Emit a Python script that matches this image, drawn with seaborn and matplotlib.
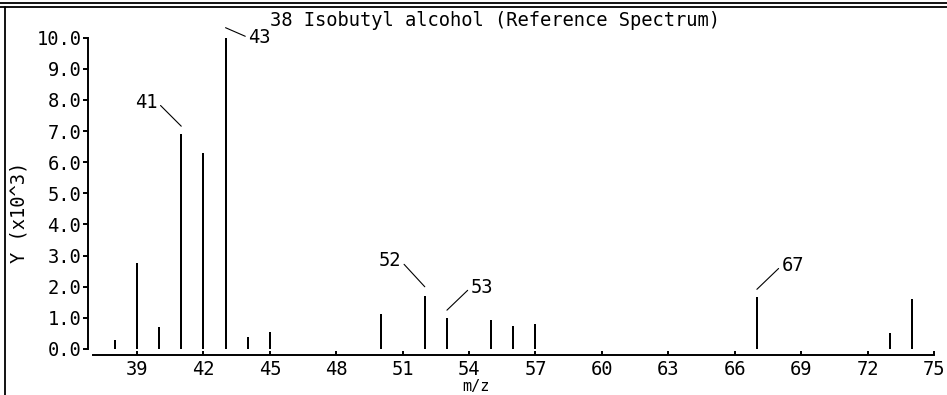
#!/usr/bin/env python3
import pandas as pd
import seaborn as sns
import matplotlib.pyplot as plt
from matplotlib.lines import Line2D
from matplotlib.transforms import offset_copy

# --- spectrum data (intensity in units of 10^3) ---
MZ = [38, 39, 40, 41, 42, 43, 44, 45, 50, 52, 53, 55, 56, 57, 67, 73, 74]
INTENSITY = [0.30, 2.75, 0.72, 6.90, 6.29, 10.0, 0.37, 0.56, 1.12,
             1.71, 0.99, 0.93, 0.74, 0.79, 1.66, 0.50, 1.61]
LABELED_PEAKS = [41, 43, 52, 53, 67]
X_TICKS = [39, 42, 45, 48, 51, 54, 57, 60, 63, 66, 69, 72, 75]
Y_TICKS = [0, 1, 2, 3, 4, 5, 6, 7, 8, 9, 10]
TITLE = "38 Isobutyl alcohol (Reference Spectrum)"

# label callout geometry in pixels: (gap above peak, dx, dy, side)
CALLOUT = {
    41: (8, -24, 24, "left"),
    43: (10, 23, -10, "right"),
    52: (9, -24, 26, "left"),
    53: (8, 24, 23, "right"),
    67: (8, 25, 24, "right"),
}

W, H = 947, 395
FS = 13.5

sns.set_theme(style="ticks")
plt.rcParams["font.family"] = ["DejaVu Sans Mono", "DejaVu Sans"]
plt.rcParams["text.color"] = "black"
plt.rcParams["xtick.color"] = "black"
plt.rcParams["ytick.color"] = "black"
plt.rcParams["xtick.labelsize"] = FS
plt.rcParams["ytick.labelsize"] = FS

fig = plt.figure(figsize=(W / 100, H / 100), dpi=100)
ax = fig.add_axes([92.7 / W, 46 / H, (934 - 92.7) / W, (349 - 37.7) / H])

df = pd.DataFrame({"mz": MZ, "intensity": INTENSITY})
sns.barplot(data=df, x="mz", y="intensity", native_scale=True, width=0.09,
            color="black", saturation=1, errorbar=None, linewidth=0, ax=ax)

ax.set_xlim(37, 75)
ax.set_ylim(0, 10)
ax.set_xticks(X_TICKS)
ax.set_xticklabels([str(t) for t in X_TICKS])
ax.set_yticks(Y_TICKS)
ax.set_yticklabels([f"{t:.1f}" for t in Y_TICKS])
ax.set_xlabel("")
ax.set_ylabel("")

for s in ["top", "right"]:
    ax.spines[s].set_visible(False)
ax.spines["left"].set_position(("outward", 3.6))
ax.spines["left"].set_bounds(0, 10)
ax.spines["bottom"].set_position(("outward", 4.3))
for s in ["left", "bottom"]:
    ax.spines[s].set_linewidth(1.4)
    ax.spines[s].set_color("black")
ax.tick_params(axis="y", direction="out", length=3.6, width=1.4, pad=1,
               colors="black", labelsize=FS)
ax.tick_params(axis="x", direction="in", length=3, width=1.4, pad=3.5,
               colors="black", labelsize=FS)
ax.patch.set_alpha(0)

# peak callouts
height = dict(zip(MZ, INTENSITY))
for mz in LABELED_PEAKS:
    gap, dx, dy, side = CALLOUT[mz]
    tr = offset_copy(ax.transData, fig=fig, x=0, y=gap, units="dots")
    ha = "right" if side == "left" else "left"
    relx = 1.0 if side == "left" else 0.0
    ax.annotate(str(mz), xy=(mz, height[mz]), xycoords=tr,
                xytext=(dx, dy), textcoords="offset pixels",
                ha=ha, va="center", fontsize=FS, color="black",
                arrowprops=dict(arrowstyle="-", lw=0.8, color="black",
                                shrinkA=0, shrinkB=0, relpos=(relx, 0.5)))

fig.text(270 / W, 1 - 20 / H, TITLE, ha="left", va="center", fontsize=FS, color="black")
fig.text(19 / W, 1 - 212 / H, "Y (x10^3)", rotation=90, ha="center", va="center",
         fontsize=FS, color="black")
fig.text(476 / W, 0.5 / H, "m/z", ha="center", va="bottom", fontsize=11, color="black")

# panel frame
for yy in (3, 7):
    fig.add_artist(Line2D([0, 1], [1 - yy / H] * 2, transform=fig.transFigure,
                          color="black", lw=1.3))
fig.add_artist(Line2D([4.5 / W] * 2, [0, 1 - 7 / H], transform=fig.transFigure,
                      color="black", lw=1.3))

fig.savefig("out.png", dpi=100, facecolor="white")
